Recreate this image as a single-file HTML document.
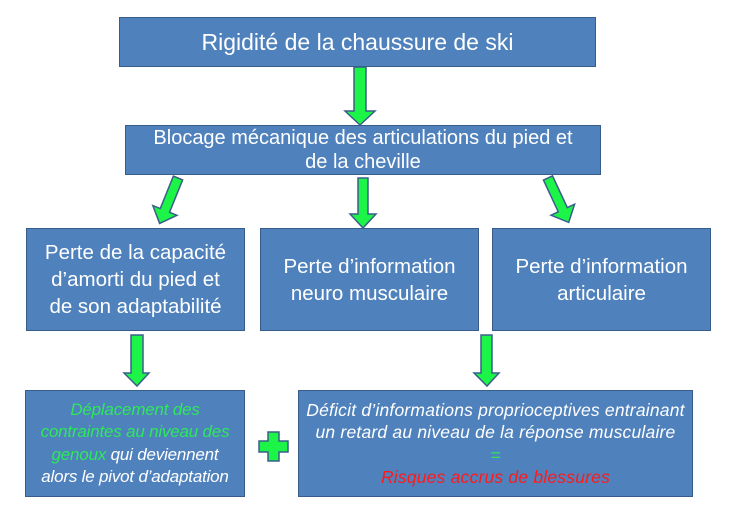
<!DOCTYPE html>
<html><head><meta charset="utf-8"><style>
body{margin:0;width:735px;height:517px;background:#fff;position:relative;overflow:hidden;font-family:"Liberation Sans",sans-serif}
.b{position:absolute;background:#4F81BD;border:1.5px solid #385D8A;box-sizing:border-box;color:#fff;display:flex;align-items:center;justify-content:center;text-align:center;white-space:nowrap}
.i{font-style:italic;font-size:17px;line-height:22.5px}
svg{position:absolute;left:0;top:0}
</style></head><body>
<div class="b" style="left:119px;top:17px;width:477px;height:50px;font-size:23px">Rigidité de la chaussure de ski</div>
<div class="b" style="left:125px;top:125px;width:476px;height:50px;font-size:20px;line-height:24px">Blocage mécanique des articulations du pied et<br>de la cheville</div>
<div class="b" style="left:26px;top:228px;width:219px;height:103px;font-size:20.5px;line-height:27px">Perte de la capacité<br>d’amorti du pied et<br>de son adaptabilité</div>
<div class="b" style="left:260px;top:228px;width:219px;height:103px;font-size:20.5px;line-height:27px">Perte d’information<br>neuro musculaire</div>
<div class="b" style="left:492px;top:228px;width:219px;height:103px;font-size:20.5px;line-height:27px">Perte d’information<br>articulaire</div>
<div class="b i" style="left:25px;top:390px;width:220px;height:107px;letter-spacing:-0.2px"><div><span style="color:#2EE85A">Déplacement des<br>contraintes au niveau des<br>genoux</span> qui deviennent<br>alors le pivot d’adaptation</div></div>
<div class="b i" style="left:298px;top:390px;width:395px;height:107px;font-size:17.5px;letter-spacing:0.2px"><div>Déficit d’informations proprioceptives entrainant<br>un retard au niveau de la réponse musculaire<br><span style="color:#2EE85A">=</span><br><span style="color:#FF1A1A">Risques accrus de blessures</span></div></div>
<svg width="735" height="517">
<defs><style>.a{fill:#1CF547;stroke:#3A5E8C;stroke-width:1.5}</style></defs>
<polygon class="a" points="354,67 366,67 366,111 375,111 360,125 345,111 354,111"/>
<polygon class="a" points="358,178 368,178 368,214 376,214 363,228 350,214 358,214"/>
<g transform="translate(178,178) rotate(22)"><polygon class="a" points="-5,0 5,0 5,35 13,35 0,49 -13,35 -5,35"/></g>
<g transform="translate(548,178) rotate(-25)"><polygon class="a" points="-5,0 5,0 5,35 13,35 0,49 -13,35 -5,35"/></g>
<polygon class="a" points="131,335 143,335 143,373 149,373 137,386 124,373 131,373"/>
<polygon class="a" points="481,335 492,335 492,373 499,373 487,386 474,373 481,373"/>
<polygon class="a" points="268,432 279,432 279,441 288,441 288,452 279,452 279,461 268,461 268,452 259,452 259,441 268,441"/>
</svg>
</body></html>
